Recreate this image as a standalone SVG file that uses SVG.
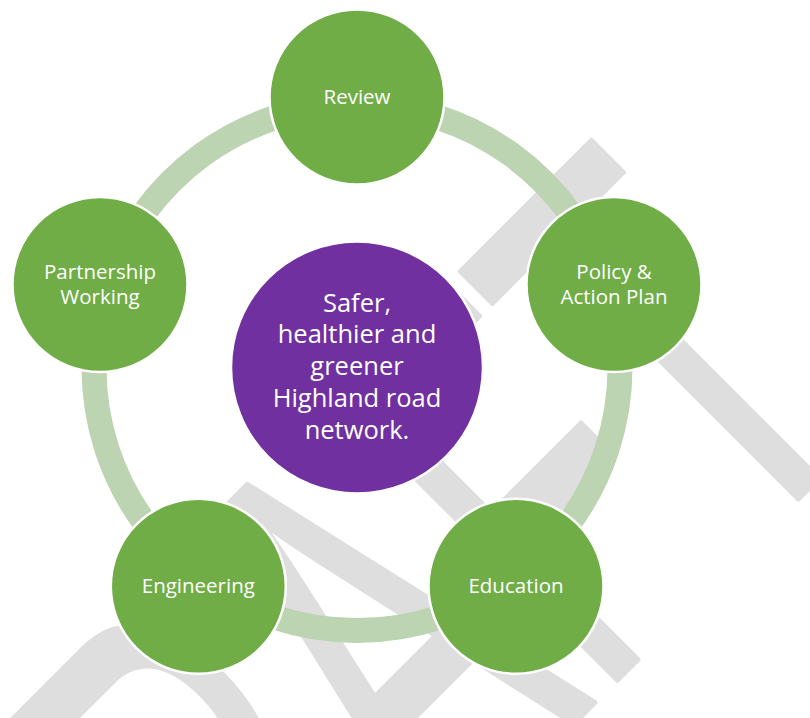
<svg xmlns="http://www.w3.org/2000/svg" width="810" height="718" viewBox="0 0 810 718">
<style>
.wm{font-family:"Liberation Sans",sans-serif;font-size:580px;fill:#dedede;stroke:#dedede;stroke-width:6;stroke-linejoin:round}
.link{fill:none;stroke:#bcd4b2;stroke-width:25}
.node{fill:#70ad47;stroke:#fff;stroke-width:2.5}
.hub{fill:#7030a0;stroke:#fff;stroke-width:2.5}
.lbl{font-family:"Open Sans","Liberation Sans",sans-serif;font-size:20.5px;fill:#fff;text-anchor:middle}
.hubl{font-size:25.5px}
</style>
<rect width="810" height="718" fill="#fff"/>
<g id="watermark" transform="translate(648.4,648.4) rotate(-45) scale(0.57,1)">
<text class="wm"><tspan x="-1388">D</tspan><tspan x="-935">R</tspan><tspan x="-518">A</tspan><tspan x="-127">F</tspan><tspan x="220">T</tspan></text>
</g>
<g id="connectors">
<path class="link" d="M357 104.5A263 263 0 0 1 607.1 286.2"/>
<path class="link" d="M607.1 286.2A263 263 0 0 1 511.6 580.3"/>
<path class="link" d="M511.6 580.3A263 263 0 0 1 202.4 580.3"/>
<path class="link" d="M202.4 580.3A263 263 0 0 1 106.9 286.2"/>
<path class="link" d="M106.9 286.2A263 263 0 0 1 357 104.5"/>
</g>
<g id="hub">
<circle class="hub" cx="357" cy="367.5" r="126"/>
<text class="lbl hubl"><tspan x="357" y="311.5">Safer,</tspan><tspan x="357" y="343">healthier and</tspan><tspan x="357" y="375">greener</tspan><tspan x="357" y="407">Highland road</tspan><tspan x="357" y="439">network.</tspan></text>
</g>
<g id="review">
<circle class="node" cx="357" cy="97" r="87.5"/>
<text class="lbl" x="357" y="104.3">Review</text>
</g>
<g id="policy">
<circle class="node" cx="614" cy="284.5" r="87.5"/>
<text class="lbl"><tspan x="614" y="278.5">Policy &amp;</tspan><tspan x="614" y="304">Action Plan</tspan></text>
</g>
<g id="education">
<circle class="node" cx="516" cy="586.3" r="87.5"/>
<text class="lbl" x="516" y="592.5">Education</text>
</g>
<g id="engineering">
<circle class="node" cx="198.3" cy="586.3" r="87.5"/>
<text class="lbl" x="198.3" y="592.5">Engineering</text>
</g>
<g id="partnership">
<circle class="node" cx="100" cy="284.5" r="87.5"/>
<text class="lbl"><tspan x="100" y="279">Partnership</tspan><tspan x="100" y="304">Working</tspan></text>
</g>
</svg>
